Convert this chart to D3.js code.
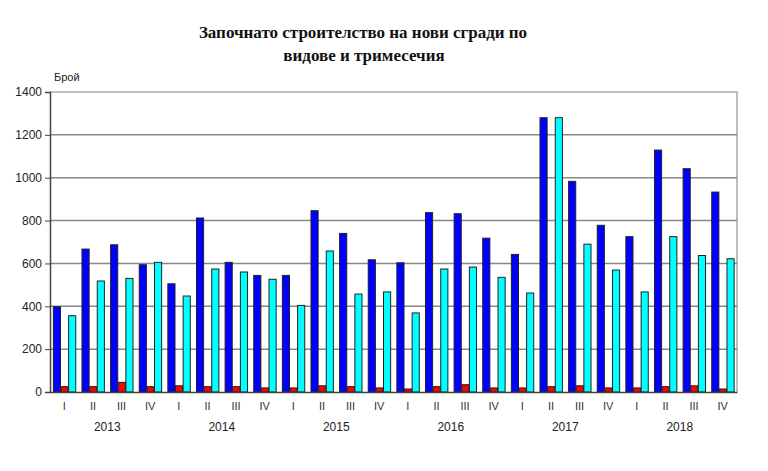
<!DOCTYPE html>
<html><head><meta charset="utf-8">
<script src="https://cdn.jsdelivr.net/npm/d3@7"></script>
<style>body{margin:0;background:#fff}svg{display:block}</style>
</head><body>
<svg id="c" width="768" height="471"></svg>
<script>
const years = ["2013","2014","2015","2016","2017","2018"];
const quarters = ["I","II","III","IV"];
const seriesBlue = [398,667,687,594, 505,812,605,544, 544,846,740,617, 603,837,832,718, 642,1280,983,778, 725,1129,1042,933];
const seriesRed  = [25,25,45,25, 29,25,25,19, 19,29,25,19, 14,25,34,19, 19,25,29,19, 19,25,29,14];
const seriesCyan = [356,518,530,605, 448,574,560,526, 404,658,457,467, 369,574,583,535, 462,1280,690,569, 467,725,637,622];
const yTicks = [0,200,400,600,800,1000,1200,1400];
const colors = ["#0000ff","#ff0000","#00ffff"];

const cats = [];
years.forEach(y => quarters.forEach(q => cats.push(y + "-" + q)));
const data = cats.map((c,i) => ({cat:c, q:c.split("-")[1], vals:[seriesBlue[i], seriesRed[i], seriesCyan[i]]}));

const svg = d3.select("#c");
const L = 50, R = 737, T = 92, B = 392;
const x = d3.scaleBand().domain(cats).range([L,R]).paddingInner(0.2).paddingOuter(0.1);
const x1 = d3.scaleBand().domain([0,1,2]).range([0,x.bandwidth()]);
const y = d3.scaleLinear().domain([0,1400]).range([B,T]);

// title
const title = svg.append("text").attr("text-anchor","middle")
  .attr("font-family","'Liberation Serif','Times New Roman',serif").attr("font-weight","bold")
  .attr("font-size","17px").attr("fill","#111");
title.append("tspan").attr("x",363).attr("y",38).text("Започнато строителство на нови сгради по");
title.append("tspan").attr("x",364).attr("y",61).text("видове и тримесечия");

// plot border (top/right)
svg.append("path").attr("d",`M${L},${T}H${R}V${B}`).attr("fill","none").attr("stroke","#aaa").attr("stroke-width",1.5);

// gridlines
svg.append("g").selectAll("line").data(yTicks.filter(t=>t>0 && t<1400)).join("line")
  .attr("x1",L).attr("x2",R).attr("y1",d=>y(d)).attr("y2",d=>y(d))
  .attr("stroke","#888").attr("stroke-width",1.5);

// bars
const g = svg.append("g").selectAll("g").data(data).join("g").attr("transform",d=>`translate(${x(d.cat)},0)`);
g.selectAll("rect").data(d=>d.vals.map((v,i)=>({v,i}))).join("rect")
  .attr("x",d=>x1(d.i)+0.5).attr("width",x1.bandwidth()-0.5)
  .attr("y",d=>y(d.v)).attr("height",d=>B-y(d.v))
  .attr("fill",d=>colors[d.i]).attr("stroke","#222").attr("stroke-width",1);

// y axis
const ya = svg.append("g").attr("transform",`translate(${L},0)`)
  .call(d3.axisLeft(y).tickValues(yTicks).tickSize(5).tickPadding(3).tickFormat(d3.format("d")));
ya.select(".domain").attr("stroke","#444").attr("stroke-width",1.5);
ya.selectAll(".tick line").attr("stroke","#444");
ya.selectAll("text").attr("font-family","Arial,'Liberation Sans',sans-serif").attr("font-size","12px").attr("fill","#222");

// x axis
const xa = svg.append("g").attr("transform",`translate(0,${B})`)
  .call(d3.axisBottom(x).tickSize(0).tickPadding(10).tickFormat(d=>d.split("-")[1]));
xa.select(".domain").attr("stroke","#444").attr("stroke-width",1.5);
xa.selectAll("text").attr("font-family","Arial,'Liberation Sans',sans-serif").attr("font-size","11px").attr("fill","#333");

// year labels
svg.append("g").selectAll("text").data(years).join("text")
  .attr("x",yr => (x(yr+"-I") + x(yr+"-IV") + x.bandwidth())/2)
  .attr("y",431).attr("text-anchor","middle")
  .attr("font-family","Arial,'Liberation Sans',sans-serif").attr("font-size","12px").attr("fill","#222")
  .text(d=>d);

// y label
svg.append("text").attr("x",54).attr("y",81)
  .attr("font-family","Arial,'Liberation Sans',sans-serif").attr("font-size","11px").attr("fill","#222").text("Брой");
</script>
</body></html>
